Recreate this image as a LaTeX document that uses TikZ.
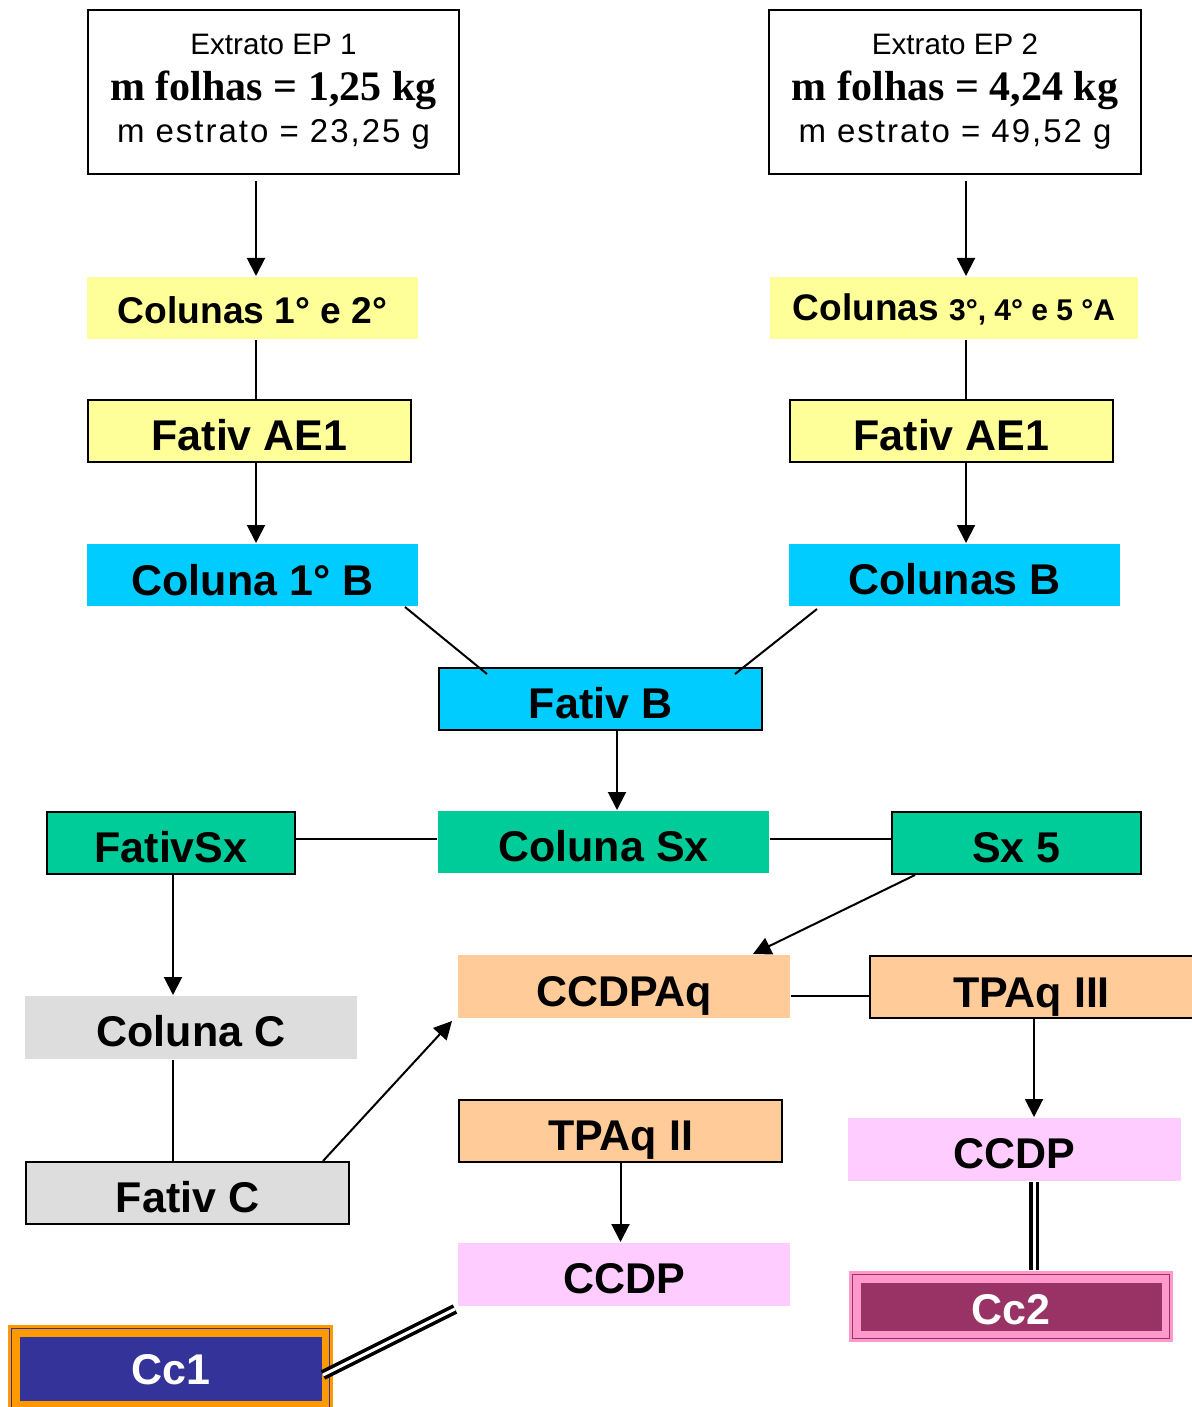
\documentclass[tikz,border=0pt]{standalone}
\usepackage{fontspec}
\setmainfont{Liberation Sans}
\newfontfamily\serifbold{Liberation Serif}
\newfontfamily\espacada[LetterSpace=6]{Liberation Sans}
\usetikzlibrary{arrows.meta}

\definecolor{amarelo}{HTML}{FFFF99}
\definecolor{azul}{HTML}{00CCFF}
\definecolor{verde}{HTML}{00CC99}
\definecolor{cinza}{HTML}{DDDDDD}
\definecolor{laranja}{HTML}{FFCC99}
\definecolor{rosa}{HTML}{FFCCFF}
\definecolor{anil}{HTML}{333399}
\definecolor{laranjaforte}{HTML}{FF9900}
\definecolor{vinho}{HTML}{993366}
\definecolor{rosaforte}{HTML}{FF99CC}

\tikzset{
  etapa/.style={rectangle, inner sep=0pt, minimum height=31pt,
    text height=19pt, text depth=0pt,
    font=\bfseries\fontsize{21.5}{24}\selectfont},
  contorno/.style={draw, line width=1pt},
  duplo/.style={double, double distance=1.5pt, line width=1.8pt},
  final/.style 2 args={etapa, fill=#2, text=white, text height=16pt,
    path picture={
      \fill[#1] ([shift={(6pt,-6pt)}]path picture bounding box.north west)
        rectangle ([shift={(-5.5pt,5.5pt)}]path picture bounding box.south east);
      \draw[#1, line width=0.7pt] ([shift={(1.8pt,-1.8pt)}]path picture bounding box.north west)
        rectangle ([shift={(-1.8pt,1.8pt)}]path picture bounding box.south east);
    }}
}

\begin{document}
\begin{tikzpicture}[x=0.5pt, y=-0.5pt, line width=1pt,
  >={Triangle[length=9pt,width=9pt]}]
  \useasboundingbox (0,0) rectangle (1192,1407);

  % guias verticais
  \coordinate (eixo1) at (256,0);
  \coordinate (eixo2) at (966,0);
  \coordinate (eixo3) at (617,0);
  \coordinate (eixo4) at (173,0);
  \coordinate (eixo5) at (1034,0);

  % extratos
  \node[contorno, inner sep=0pt, minimum width=185.5pt, minimum height=82pt, align=center,
    font=\fontsize{14.8}{23}\selectfont] (ep1) at (273.5,92)
    {Extrato EP 1\\[0pt]{\serifbold\bfseries\fontsize{21}{24}\selectfont m folhas = 1,25 kg}\\[-2pt]
     {\espacada\fontsize{16.5}{20}\selectfont m estrato = 23,25 g}};
  \node[contorno, inner sep=0pt, minimum width=186pt, minimum height=82pt, align=center,
    font=\fontsize{14.8}{23}\selectfont] (ep2) at (955,92)
    {Extrato EP 2\\[0pt]{\serifbold\bfseries\fontsize{21}{24}\selectfont m folhas = 4,24 kg}\\[-2pt]
     {\espacada\fontsize{16.5}{20}\selectfont m estrato = 49,52 g}};

  % colunas A
  \node[etapa, fill=amarelo, minimum width=165.5pt, text height=15pt,
    font=\bfseries\fontsize{18.6}{22}\selectfont] (col12) at (252.5,308) {Colunas 1° e 2°};
  \node[etapa, fill=amarelo, minimum width=184pt, text height=12pt] (col345) at (954,308)
    {\fontsize{18.5}{22}\selectfont Colunas \fontsize{15}{18}\selectfont 3°, 4° e 5 °A};
  \node[etapa, contorno, fill=amarelo, minimum width=161.5pt] (fae1a) at (249.5,431) {Fativ AE1};
  \node[etapa, contorno, fill=amarelo, minimum width=161.5pt] (fae1b) at (951.5,431) {Fativ AE1};

  % colunas B
  \node[etapa, fill=azul, minimum width=165.5pt, text height=20pt] (col1b) at (252.5,575) {Coluna 1° B};
  \node[etapa, fill=azul, minimum width=165.5pt] (colb) at (954.5,575) {Colunas B};
  \node[etapa, contorno, fill=azul, minimum width=161.5pt] (fativb) at (600.5,699) {Fativ B};

  % Sx
  \node[etapa, fill=verde, minimum width=165.5pt] (colsx) at (603.5,842) {Coluna Sx};
  \node[etapa, contorno, fill=verde, minimum width=124pt] (fativsx) at (171,843) {FativSx};
  \node[etapa, contorno, fill=verde, minimum width=124.5pt] (sx5) at (1016.5,843) {Sx 5};

  % C
  \node[etapa, fill=cinza, minimum width=166pt, minimum height=31.5pt] (colc) at (191,1027.5) {Coluna C};
  \node[etapa, contorno, fill=cinza, minimum width=161.5pt] (fativc) at (187.5,1193) {Fativ C};

  % CCDP
  \node[etapa, fill=laranja, minimum width=166pt, minimum height=31.5pt, text height=20pt] (ccdpaq) at (624,986.5) {CCDPAq};
  \node[etapa, contorno, fill=laranja, minimum width=161.5pt, text height=20pt] (tpaq3) at (1031.5,987) {TPAq III};
  \node[etapa, contorno, fill=laranja, minimum width=161.5pt] (tpaq2) at (620.5,1131) {TPAq II};
  \node[etapa, fill=rosa, minimum width=166pt, minimum height=31.5pt] (ccdp1) at (624,1274.5) {CCDP};
  \node[etapa, fill=rosa, minimum width=166.5pt, minimum height=31.5pt] (ccdp2) at (1014.5,1149.5) {CCDP};

  % compostos
  \node[final={anil}{laranjaforte}, minimum width=162.5pt, minimum height=43.5pt] (cc1) at (170.5,1368.5) {Cc1};
  \node[final={vinho}{rosaforte}, minimum width=162pt, minimum height=35.5pt, text height=18pt] (cc2) at (1011,1306.5) {Cc2};

  % ligacoes
  \draw[->, shorten <=3pt] (ep1.south -| eixo1) -- (col12.north -| eixo1);
  \draw (col12.south -| eixo1) -- (fae1a.north -| eixo1);
  \draw[->] (fae1a.south -| eixo1) -- (col1b.north -| eixo1);
  \draw[->, shorten <=3pt] (ep2.south -| eixo2) -- (col345.north -| eixo2);
  \draw (col345.south -| eixo2) -- (fae1b.north -| eixo2);
  \draw[->] (fae1b.south -| eixo2) -- (colb.north -| eixo2);
  \draw ([xshift=-7pt]col1b.south east) -- ([xshift=24.5pt,yshift=-3.5pt]fativb.north west);
  \draw ([xshift=14.5pt,yshift=-1pt]colb.south west) -- ([xshift=-14pt,yshift=-3.5pt]fativb.north east);
  \draw[->] (fativb.south -| eixo3) -- (colsx.north -| eixo3);
  \draw ([yshift=2pt]fativsx.east) -- ([yshift=2pt]fativsx.east -| colsx.west);
  \draw ([yshift=1.5pt]colsx.east) -- ([yshift=1.5pt]colsx.east -| sx5.west);
  \draw[->] (fativsx.south -| eixo4) -- (colc.north -| eixo4);
  \draw (colc.south -| eixo4) -- (fativc.north -| eixo4);
  \draw[->] ([xshift=-13.5pt]fativc.north east) -- ([xshift=-2.5pt,yshift=-1pt]ccdpaq.south west);
  \draw[->] ([xshift=12pt]sx5.south west) -- ([xshift=-19pt]ccdpaq.north east);
  \draw ([yshift=-4.5pt]ccdpaq.east) -- ([yshift=-4.5pt]ccdpaq.east -| tpaq3.west);
  \draw[->] (tpaq3.south -| eixo5) -- (ccdp2.north -| eixo5);
  \draw[->] (tpaq2.south) -- (tpaq2.south |- ccdp1.north);
  \draw[duplo] (ccdp2.south -| eixo5) -- (cc2.north -| eixo5);
  \draw[duplo] ([xshift=-1pt,yshift=-1pt]ccdp1.south west) -- ([xshift=-5.5pt,yshift=-3.25pt]cc1.east);
\end{tikzpicture}
\end{document}
